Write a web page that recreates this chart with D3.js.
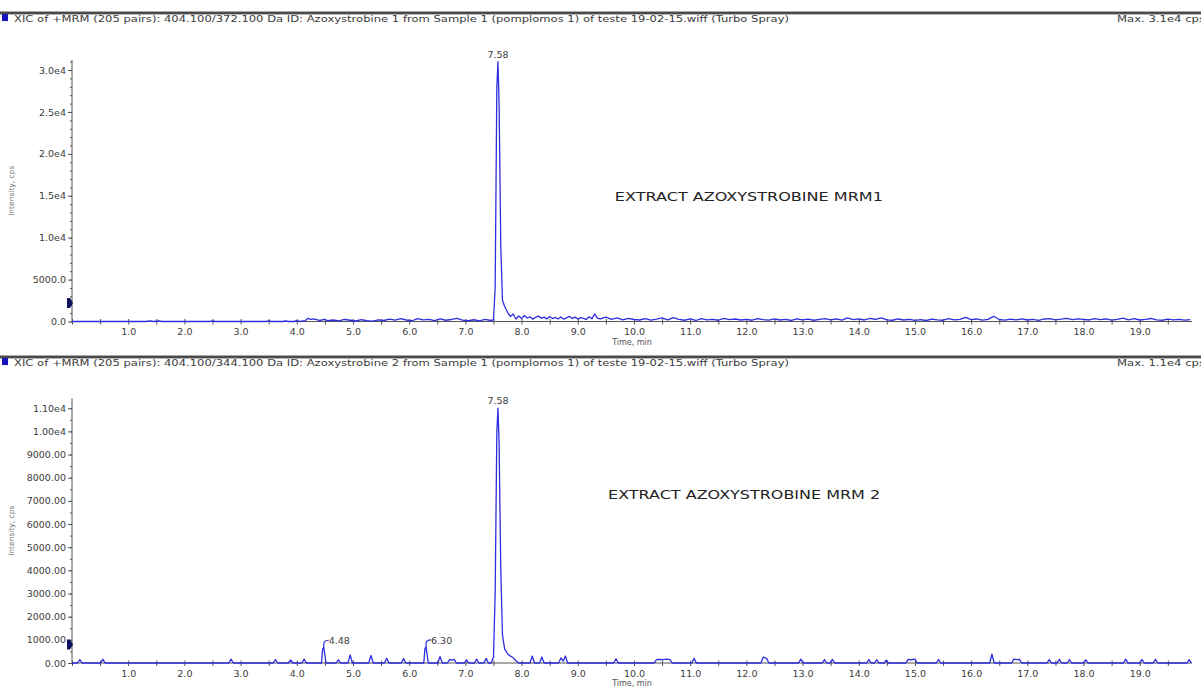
<!DOCTYPE html>
<html>
<head>
<meta charset="utf-8">
<script src="https://cdn.jsdelivr.net/npm/d3@7"></script>
<style>
    body { margin: 0; background: #fff; }
    svg { display: block; font-family: "DejaVu Sans", sans-serif; }
</style>
</head>
<body>
<svg id="chart" width="1201" height="691"></svg>
<script>
// MRM1 trace: [time (min), intensity (cps)]
const mrm1 = [
    [0.00, 0], [0.50, 0], [1.30, 0], [1.40, 80], [1.45, 0], [1.55, 60], [1.60, 0],
    [2.45, 0], [2.50, 60], [2.55, 0], [3.45, 0], [3.50, 70], [3.55, 0], [3.75, 0],
    [3.80, 60], [3.85, 0], [3.95, 0], [4.00, 90], [4.05, 0], [4.15, 100], [4.20, 380],
    [4.25, 260], [4.30, 320], [4.40, 120], [4.50, 260], [4.55, 90], [4.65, 180], [4.75, 80],
    [4.85, 240], [4.95, 150], [5.05, 60], [5.15, 210], [5.25, 100], [5.35, 40], [5.45, 200],
    [5.55, 120], [5.65, 280], [5.75, 160], [5.85, 330], [5.95, 180], [6.05, 90], [6.15, 350],
    [6.25, 200], [6.35, 260], [6.45, 110], [6.55, 300], [6.65, 150], [6.75, 240], [6.85, 380],
    [6.95, 160], [7.05, 90], [7.15, 210], [7.25, 80], [7.35, 260], [7.45, 120], [7.50, 200],
    [7.53, 4000], [7.56, 28000], [7.58, 31000], [7.60, 26000], [7.63, 9000], [7.66, 2500],
    [7.70, 1800], [7.75, 1100], [7.80, 600], [7.85, 900], [7.90, 300], [7.95, 650], [8.00, 350],
    [8.05, 720], [8.10, 420], [8.15, 560], [8.20, 280], [8.25, 500], [8.30, 650], [8.35, 380],
    [8.40, 520], [8.45, 310], [8.50, 600], [8.55, 350], [8.60, 480], [8.65, 300], [8.70, 540],
    [8.75, 280], [8.80, 430], [8.85, 620], [8.90, 350], [8.95, 520], [9.00, 300], [9.05, 460],
    [9.10, 380], [9.15, 250], [9.20, 560], [9.25, 320], [9.30, 900], [9.35, 400], [9.40, 300],
    [9.50, 520], [9.60, 260], [9.70, 420], [9.80, 200], [9.90, 360], [10.00, 240], [10.10, 180],
    [10.20, 330], [10.30, 160], [10.40, 280], [10.50, 420], [10.60, 200], [10.70, 460],
    [10.80, 250], [10.90, 150], [11.00, 300], [11.10, 120], [11.20, 350], [11.30, 200],
    [11.40, 260], [11.50, 150], [11.60, 380], [11.70, 230], [11.80, 300], [11.90, 180],
    [12.00, 260], [12.10, 150], [12.20, 340], [12.30, 220], [12.40, 160], [12.50, 300],
    [12.60, 180], [12.70, 260], [12.80, 120], [12.90, 320], [13.00, 200], [13.10, 280],
    [13.20, 150], [13.30, 250], [13.40, 340], [13.50, 200], [13.60, 300], [13.70, 160],
    [13.80, 420], [13.90, 230], [14.00, 310], [14.10, 180], [14.20, 360], [14.30, 240],
    [14.40, 420], [14.50, 200], [14.60, 150], [14.70, 300], [14.80, 180], [14.90, 260],
    [15.00, 140], [15.10, 230], [15.20, 120], [15.30, 280], [15.40, 190], [15.50, 150],
    [15.60, 330], [15.70, 200], [15.80, 260], [15.90, 480], [16.00, 220], [16.10, 300],
    [16.20, 170], [16.30, 260], [16.40, 620], [16.50, 240], [16.60, 160], [16.70, 280],
    [16.80, 200], [16.90, 320], [17.00, 180], [17.10, 260], [17.20, 140], [17.30, 300],
    [17.40, 350], [17.50, 200], [17.60, 280], [17.70, 380], [17.80, 230], [17.90, 320],
    [18.00, 260], [18.10, 180], [18.20, 340], [18.30, 220], [18.40, 300], [18.50, 170],
    [18.60, 260], [18.70, 400], [18.80, 200], [18.90, 330], [19.00, 180], [19.10, 260],
    [19.20, 360], [19.30, 190], [19.40, 150], [19.50, 280], [19.60, 200], [19.70, 250],
    [19.80, 170], [19.90, 220]
]

// MRM2 trace: [time (min), intensity (cps)]
const mrm2 = [
    [0.00, 0], [0.10, 0], [0.14, 150], [0.18, 0], [0.51, 0], [0.55, 160], [0.59, 0],
    [2.79, 0], [2.83, 170], [2.87, 0], [3.58, 0], [3.62, 150], [3.66, 0],
    [3.85, 0], [3.89, 130], [3.93, 0], [4.09, 0], [4.13, 170], [4.17, 0],
    [4.44, 0], [4.46, 600], [4.48, 680], [4.52, 0], [4.70, 0], [4.74, 140], [4.78, 0],
    [4.91, 0], [4.95, 350], [4.99, 0], [5.28, 0], [5.32, 330], [5.36, 0],
    [5.56, 0], [5.60, 200], [5.64, 0], [5.86, 0], [5.90, 190], [5.94, 0],
    [6.26, 0], [6.28, 620], [6.30, 700], [6.34, 0], [6.51, 0], [6.55, 280], [6.59, 0],
    [6.68, 0], [6.72, 150], [6.76, 120], [6.80, 160], [6.84, 0], [6.98, 0], [7.02, 140], [7.06, 0],
    [7.16, 0], [7.20, 170], [7.24, 0], [7.33, 0], [7.37, 200], [7.41, 0],
    [7.46, 0], [7.50, 250], [7.53, 3000], [7.56, 10000], [7.58, 11000], [7.60, 9500],
    [7.63, 4000], [7.66, 1200], [7.70, 600], [7.75, 400], [7.80, 300], [7.84, 250],
    [7.90, 100], [7.95, 0], [8.15, 0], [8.19, 300], [8.23, 0], [8.32, 0], [8.36, 260], [8.40, 0],
    [8.66, 0], [8.70, 220], [8.74, 80], [8.78, 300], [8.82, 0], [9.64, 0], [9.68, 180], [9.72, 0],
    [10.36, 0], [10.40, 150], [10.46, 160], [10.52, 150], [10.58, 170], [10.64, 150], [10.68, 0],
    [11.03, 0], [11.07, 200], [11.11, 0], [12.26, 0], [12.30, 250], [12.36, 200], [12.40, 0],
    [12.93, 0], [12.97, 170], [13.01, 0], [13.35, 0], [13.39, 150], [13.43, 0],
    [13.49, 0], [13.53, 160], [13.57, 0], [14.14, 0], [14.18, 150], [14.22, 0],
    [14.28, 0], [14.32, 140], [14.36, 0], [14.45, 0], [14.49, 120], [14.53, 0],
    [14.84, 0], [14.88, 160], [14.94, 140], [15.00, 170], [15.04, 0], [15.38, 0], [15.42, 150], [15.46, 0],
    [16.33, 0], [16.37, 380], [16.41, 0], [16.72, 0], [16.76, 170], [16.81, 150], [16.86, 160], [16.90, 0],
    [17.35, 0], [17.39, 150], [17.43, 0], [17.53, 0], [17.57, 160], [17.61, 0],
    [17.71, 0], [17.75, 150], [17.79, 0], [18.00, 0], [18.04, 140], [18.08, 0],
    [18.71, 0], [18.75, 170], [18.79, 0], [19.00, 0], [19.04, 150], [19.08, 0],
    [19.24, 0], [19.28, 160], [19.32, 0], [19.84, 0], [19.88, 150], [19.92, 0]
]

const xTicks = [0, 0.5, 1, 1.5, 2, 2.5, 3, 3.5, 4, 4.5, 5, 5.5, 6, 6.5, 7, 7.5, 8, 8.5, 9, 9.5,
    10, 10.5, 11, 11.5, 12, 12.5, 13, 13.5, 14, 14.5, 15, 15.5, 16, 16.5, 17, 17.5, 18, 18.5, 19, 19.5]

const yTicks1 = [0, 5000, 10000, 15000, 20000, 25000, 30000]
const yLabels1 = ["0.0", "5000.0", "1.0e4", "1.5e4", "2.0e4", "2.5e4", "3.0e4"]
const yTicks2 = [0, 1000, 2000, 3000, 4000, 5000, 6000, 7000, 8000, 9000, 10000, 11000]
const yLabels2 = ["0.00", "1000.00", "2000.00", "3000.00", "4000.00", "5000.00", "6000.00",
    "7000.00", "8000.00", "9000.00", "1.00e4", "1.10e4"]

// peaks that carry a retention-time label: [time, cps, label, hooked]
const peaks1 = [[7.58, 31000, "7.58", false]]
const peaks2 = [[4.48, 680, "4.48", true], [6.30, 700, "6.30", true], [7.58, 11000, "7.58", false]]

const headers = [
    "XIC of +MRM (205 pairs): 404.100/372.100 Da ID: Azoxystrobine 1 from Sample 1 (pomplomos 1) of teste 19-02-15.wiff (Turbo Spray)",
    "XIC of +MRM (205 pairs): 404.100/344.100 Da ID: Azoxystrobine 2 from Sample 1 (pomplomos 1) of teste 19-02-15.wiff (Turbo Spray)"
]
const maxLabels = ["Max. 3.1e4 cps", "Max. 1.1e4 cps"]
const notes = ["EXTRACT AZOXYSTROBINE MRM1", "EXTRACT AZOXYSTROBINE MRM 2"]

const svg = d3.select("#chart")
const lineColor = "#2e2ee0"
const textColor = "#3c3c3c"

const panels = [
    { top: 0, data: mrm1, yMax: 31200, yZero: 321.5, yTop: 60, ticks: yTicks1, labels: yLabels1,
      minor: 1000, peaks: peaks1, marker: 2200, note: [9.66, 15000], noteLen: 268 },
    { top: 344, data: mrm2, yMax: 11420, yZero: 663, yTop: 398.5, ticks: yTicks2, labels: yLabels2,
      minor: 500, peaks: peaks2, marker: 800, note: [9.54, 7280], noteLen: 272 }
]

const x = d3.scaleLinear().domain([0, 19.93]).range([72, 1192])

panels.forEach((p, i) => {
    const g = svg.append("g")
    const y = d3.scaleLinear().domain([0, p.yMax]).range([p.yZero, p.yTop])

    // header bar
    g.append("rect").attr("x", 0).attr("y", p.top + 11).attr("width", 1201).attr("height", 1.2).attr("fill", "#aaa")
    g.append("rect").attr("x", 0).attr("y", p.top + 12).attr("width", 1201).attr("height", 2.4).attr("fill", "#4a4a4a")
    g.append("rect").attr("x", 2).attr("y", p.top + 14).attr("width", 6).attr("height", 7).attr("fill", "#1414b8")
    g.append("text").attr("x", 14).attr("y", p.top + 21.5)
        .attr("font-size", 9.2).attr("fill", textColor)
        .attr("textLength", 775).attr("lengthAdjust", "spacingAndGlyphs")
        .text(headers[i])
    g.append("text").attr("x", 1117).attr("y", p.top + 21.5)
        .attr("font-size", 9.2).attr("fill", textColor)
        .attr("textLength", 88).attr("lengthAdjust", "spacingAndGlyphs")
        .text(maxLabels[i])

    // y axis
    const yMinor = d3.range(0, p.yMax, p.minor)
    g.append("g").attr("transform", "translate(72,0)")
        .call(d3.axisLeft(y).tickValues(yMinor).tickSize(2).tickFormat(""))
        .call(a => a.select(".domain").remove())
        .selectAll("line").attr("stroke", "#555")
    const ya = g.append("g").attr("transform", "translate(72,0)")
        .call(d3.axisLeft(y).tickValues(p.ticks).tickSize(4).tickPadding(2)
            .tickFormat((d, k) => p.labels[k]))
    ya.select(".domain").attr("stroke", "#555").attr("d", `M0,${p.yTop}V${p.yZero}`)
    ya.selectAll("line").attr("stroke", "#555")
    ya.selectAll("text").attr("font-size", 9.5).attr("fill", textColor).attr("font-family", "DejaVu Sans")

    g.append("text")
        .attr("transform", `translate(14,${(p.yTop + p.yZero) / 2}) rotate(-90)`)
        .attr("text-anchor", "middle").attr("font-size", 7.5).attr("fill", "#777")
        .text("Intensity, cps")

    // x axis, crosses every 0.5 min, labels on whole minutes
    const xa = g.append("g").attr("transform", `translate(0,${p.yZero})`)
        .call(d3.axisBottom(x).tickValues(xTicks).tickSize(3).tickPadding(4)
            .tickFormat(d => d >= 1 && d % 1 === 0 ? d3.format(".1f")(d) : ""))
    xa.select(".domain").attr("stroke", "#555").attr("d", `M${x.range()[0]},0H${x.range()[1]}`)
    xa.selectAll("line").attr("stroke", "#555").attr("y1", -2.5)
    xa.selectAll("text").attr("font-size", 9.5).attr("fill", textColor).attr("font-family", "DejaVu Sans")

    g.append("text")
        .attr("x", (x.range()[0] + x.range()[1]) / 2).attr("y", p.yZero + 23)
        .attr("text-anchor", "middle").attr("font-size", 8).attr("fill", "#555")
        .text("Time, min")

    // threshold marker on the y axis
    const my = y(p.marker)
    g.append("path")
        .attr("d", `M67,${my - 5}L70,${my - 5}L73,${my}L70,${my + 5}L67,${my + 5}Z`)
        .attr("fill", "#101060")

    // trace
    g.append("path")
        .datum(p.data)
        .attr("fill", "none")
        .attr("stroke", lineColor)
        .attr("stroke-width", 1.3)
        .attr("stroke-linejoin", "round")
        .attr("d", d3.line().x(d => x(d[0])).y(d => y(d[1])))

    // peak labels
    p.peaks.forEach(([t, v, label, hooked]) => {
        const px = x(t), py = y(v)
        if (hooked) {
            g.append("path")
                .attr("d", `M${px},${py}V${py - 3}Q${px},${py - 7} ${px + 5},${py - 7}`)
                .attr("fill", "none").attr("stroke", lineColor).attr("stroke-width", 1.2)
            g.append("text").attr("x", px + 5).attr("y", py - 3)
                .attr("font-size", 9.5).attr("fill", textColor).text(label)
        } else {
            g.append("text").attr("x", px).attr("y", py - 4)
                .attr("text-anchor", "middle").attr("font-size", 9.5).attr("fill", textColor).text(label)
        }
    })

    g.append("text")
        .attr("x", x(p.note[0])).attr("y", y(p.note[1]) + 5)
        .attr("font-size", 13).attr("fill", "#222")
        .attr("textLength", p.noteLen).attr("lengthAdjust", "spacingAndGlyphs")
        .text(notes[i])
})
</script>
</body>
</html>
